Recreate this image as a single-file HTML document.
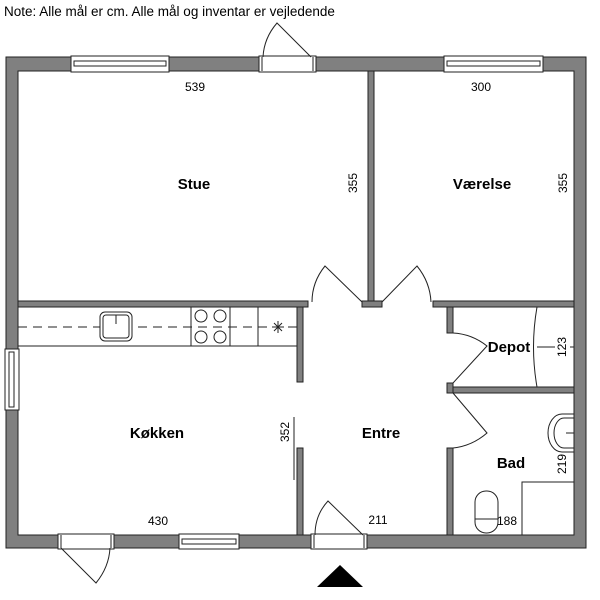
<!DOCTYPE html>
<html><head><meta charset="utf-8"><style>body{margin:0;background:#fff}svg{display:block}text{font-family:"Liberation Sans","DejaVu Sans",sans-serif}</style></head><body>
<svg width="600" height="600" viewBox="0 0 600 600" xmlns="http://www.w3.org/2000/svg">
<text x="4" y="16" font-size="13.5">Note: Alle mål er cm. Alle mål og inventar er vejledende</text>
<g fill="#808080" stroke="#222" stroke-width="1">
<path d="M6 57 H586 V548 H6 Z M18 71 V535 H574 V71 Z" fill-rule="evenodd"/>
<rect x="368" y="71" width="6" height="236"/>
<rect x="18" y="301" width="290" height="6"/>
<rect x="362" y="301" width="20" height="6"/>
<rect x="433" y="301" width="141" height="6"/>
<rect x="297" y="307" width="6" height="75"/>
<rect x="297" y="448" width="6" height="87"/>
<rect x="447" y="307" width="6" height="26"/>
<rect x="447" y="383" width="6" height="10"/>
<rect x="453" y="387" width="121" height="6"/>
<rect x="447" y="448" width="6" height="87"/>
</g>
<g fill="#fff" stroke="#222" stroke-width="1">
<rect x="259" y="56" width="57" height="16"/>
<rect x="71" y="56" width="98" height="16"/><rect x="74" y="61" width="92" height="5"/>
<rect x="444" y="56" width="99" height="16"/><rect x="447" y="61" width="93" height="5"/>
<rect x="58" y="534" width="56" height="15"/>
<rect x="179" y="534" width="60" height="15"/><rect x="182" y="539" width="54" height="5"/>
<rect x="311" y="534" width="56" height="15"/>
<rect x="5" y="349" width="14" height="61"/><rect x="9" y="352" width="5" height="55"/>
</g>
<g fill="none" stroke="#222" stroke-width="1">
<line x1="262" y1="57" x2="262" y2="71"/><line x1="313" y1="57" x2="313" y2="71"/>
<line x1="61" y1="535" x2="61" y2="548"/><line x1="111" y1="535" x2="111" y2="548"/>
<line x1="314" y1="535" x2="314" y2="548"/><line x1="364" y1="535" x2="364" y2="548"/>
<path d="M311 57 L277 23 Q264 38 263 57"/>
<path d="M362 302 L325 266 Q312 282 312 302"/>
<path d="M382 302 L417 266 Q430 282 431 302"/>
<path d="M453 383 L487 346 Q472 334 453 333"/>
<path d="M453 393 L487 433 Q472 446 453 448"/>
<path d="M363 535 L328 501 Q315 515 315 535"/>
<path d="M61 548 L96 583 Q109 567 110 548"/>
<line x1="18" y1="346" x2="297" y2="346"/>
<line x1="18" y1="327" x2="297" y2="327" stroke-dasharray="9,6"/>
<line x1="191" y1="307" x2="191" y2="346"/><line x1="230" y1="307" x2="230" y2="346"/><line x1="258" y1="307" x2="258" y2="346"/>
<circle cx="201" cy="316" r="6" fill="#fff"/><circle cx="220" cy="316" r="6" fill="#fff"/>
<circle cx="201" cy="337" r="6" fill="#fff"/><circle cx="220" cy="337" r="6" fill="#fff"/>
<rect x="100" y="312" width="32" height="29" rx="5" fill="#fff"/><rect x="103" y="315" width="26" height="23" rx="3"/>
<line x1="111" y1="315" x2="121" y2="315"/><line x1="116" y1="315" x2="116" y2="324"/>
<path d="M272 327 H284 M278 321 V333 M274 323 L282 331 M282 323 L274 331"/>
<path d="M537 307 Q530 347 537 387"/>
<line x1="537" y1="347" x2="555" y2="347"/><line x1="570" y1="347" x2="574" y2="347"/>
<path d="M574 414 H562 A14 19 0 0 0 562 452 H574"/>
<path d="M574 418 H564 A10 15 0 0 0 564 448 H574"/>
<line x1="566" y1="433" x2="574" y2="433"/>
<rect x="522" y="482" width="52" height="53"/>
<rect x="475" y="491" width="23" height="42" rx="11"/>
<line x1="475" y1="519" x2="498" y2="519"/>
<line x1="294" y1="417" x2="294" y2="480"/>
</g>
<polygon points="317,587 363,587 340,565" fill="#000"/>
<g font-size="15" font-weight="bold" text-anchor="middle">
<text x="194" y="189">Stue</text><text x="482" y="189">Værelse</text>
<text x="157" y="438">Køkken</text><text x="381" y="438">Entre</text>
<text x="509" y="352">Depot</text><text x="511" y="468">Bad</text>
</g>
<g font-size="12" text-anchor="middle">
<text x="195" y="91">539</text><text x="481" y="91">300</text>
<text x="158" y="525">430</text><text x="378" y="524">211</text><text x="507" y="525">188</text>
<text transform="translate(357,183) rotate(-90)">355</text>
<text transform="translate(567,183) rotate(-90)">355</text>
<text transform="translate(566,347) rotate(-90)">123</text>
<text transform="translate(566,464) rotate(-90)">219</text>
<text transform="translate(289,432) rotate(-90)">352</text>
</g>
</svg>
</body></html>
